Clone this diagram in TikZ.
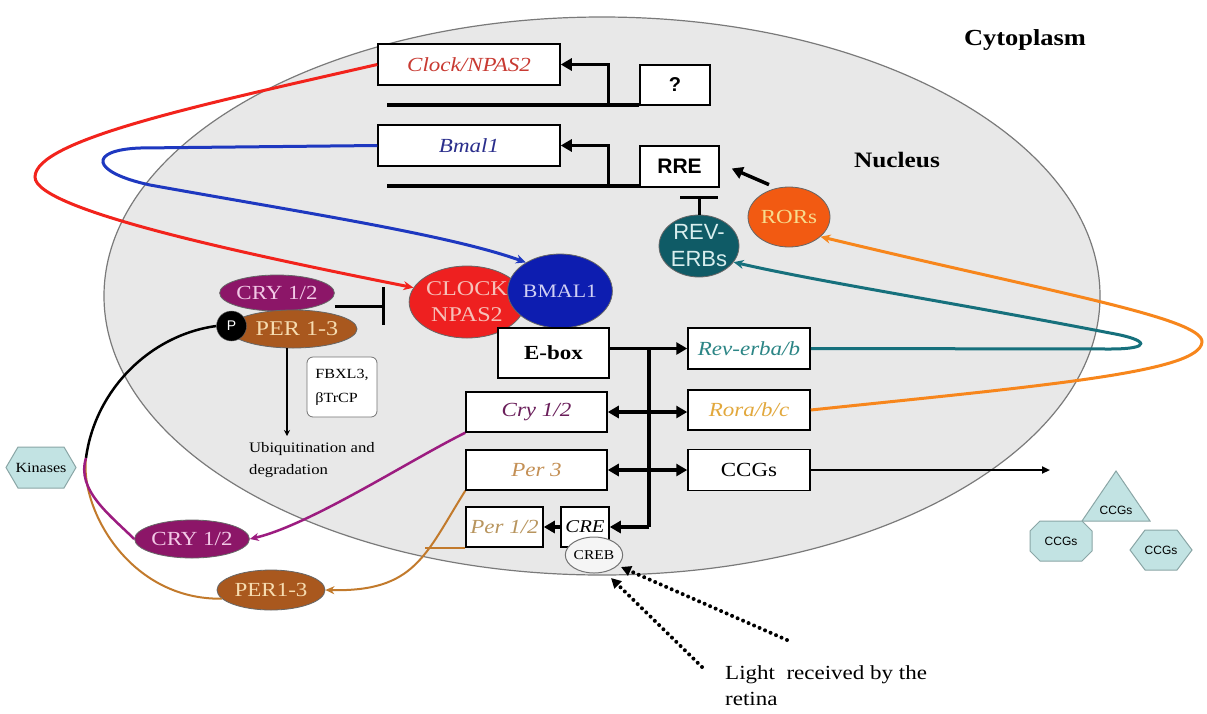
\documentclass[tikz,border=0pt]{standalone}
\usepackage{fontspec}
\setmainfont{Liberation Serif}[FakeStretch=1.15]
\setsansfont{Liberation Sans}
\usetikzlibrary{shapes.geometric,arrows.meta,calc}
\newcommand\myfs[2]{\fontsize{#1}{#2}\selectfont}
\definecolor{nucfill}{HTML}{E8E8E8}
\definecolor{nucdraw}{HTML}{7A7A7A}
\definecolor{clockred}{HTML}{C83A32}
\definecolor{bmalblue}{HTML}{2A2E8C}
\definecolor{redc}{HTML}{F2231C}
\definecolor{bluec}{HTML}{1E38C0}
\definecolor{tealc}{HTML}{16707C}
\definecolor{orangec}{HTML}{F7861C}
\definecolor{clockfill}{HTML}{EE2020}
\definecolor{clocktext}{HTML}{F6C0B8}
\definecolor{bmalfill}{HTML}{0D1DB0}
\definecolor{bmaltext}{HTML}{D0D0F4}
\definecolor{cryfill}{HTML}{8C1668}
\definecolor{crytext}{HTML}{F2C8E6}
\definecolor{perfill}{HTML}{A9581E}
\definecolor{pertext}{HTML}{F6DCB0}
\definecolor{revfill}{HTML}{0F5B66}
\definecolor{revtext}{HTML}{D8EEEE}
\definecolor{rorfill}{HTML}{F25A12}
\definecolor{rortext}{HTML}{F7DC8E}
\definecolor{revtxt}{HTML}{2B8585}
\definecolor{roratxt}{HTML}{E2A83C}
\definecolor{crytxt}{HTML}{6A1E5A}
\definecolor{per3txt}{HTML}{C49055}
\definecolor{per12txt}{HTML}{B8955E}
\definecolor{purplec}{HTML}{9C1C80}
\definecolor{brownc}{HTML}{C27A2C}
\definecolor{shapefill}{HTML}{C2E3E3}
\definecolor{shapedraw}{HTML}{8AA6A6}
\begin{document}
\begin{tikzpicture}[x=1pt,y=-1pt,
  box/.style={draw=black, line width=1.5pt, fill=white, inner sep=0pt, font=\myfs{20}{24}},
  gene/.style={box, font=\itshape\myfs{20}{24}},
  prot/.style={ellipse, draw=black!60, line width=0.8pt, inner sep=0pt, align=center},
  thickarr/.style={line width=3.5pt, -{Triangle[length=11pt,width=12pt]}},
  dblarr/.style={line width=3.5pt, {Triangle[length=11pt,width=12pt]}-{Triangle[length=11pt,width=12pt]}},
  curv/.style={line width=3pt, -{Stealth[length=10pt,width=9pt]}},
  dotarr/.style={line width=4pt, line cap=round, dash pattern=on 0pt off 6pt, -{Triangle[length=10pt,width=10pt]}},
  shp/.style={draw=shapedraw, fill=shapefill, line width=1pt},
  tbar/.style={line width=3pt, -{Bar[width=38pt]}}
]
\useasboundingbox (0,0) rectangle (1207,713);
\fill[white] (0,0) rectangle (1207,713);

% nucleus
\node[ellipse, draw=nucdraw, fill=nucfill, line width=1.2pt, minimum width=996pt, minimum height=558pt, inner sep=0pt] (nuc) at (602,296) {};

\node[font=\bfseries\myfs{23}{28}] (cyto) at (1025,40) {Cytoplasm};
\node[font=\bfseries\myfs{22}{26}] (nucl) at (897,160) {Nucleus};

% genes top
\node[gene, text=clockred, minimum width=182pt, minimum height=41pt] (clockg) at (469,64.5) {Clock/NPAS2};
\node[box, font=\sffamily\bfseries\myfs{20}{24}, minimum width=70pt, minimum height=40pt] (q) at (675,85) {?};
\node[gene, text=bmalblue, minimum width=182pt, minimum height=41pt] (bmalg) at (469,145.5) {Bmal1};
\node[box, font=\sffamily\bfseries\myfs{21}{26}, minimum width=79pt, minimum height=41pt] (rre) at (679.5,166.5) {RRE};

\draw[line width=4pt] ($(q.south west)+(0,-1)$) -- ++(-252,0);
\draw[line width=4pt] ($(rre.south west)+(0,-1.5)$) -- ++(-252,0);
\draw[thickarr] ($(q.south west)+(-31,-1)$) |- (clockg.east);
\draw[thickarr] ($(rre.south west)+(-31,-1.5)$) |- (bmalg.east);

% proteins in nucleus
\node[prot, fill=revfill, text=revtext, minimum width=80pt, minimum height=62pt, font=\sffamily\myfs{22}{27}] (revp) at (699,246) {REV-\\ERBs};
\node[prot, fill=rorfill, text=rortext, minimum width=82pt, minimum height=60pt, font=\myfs{20}{24}] (rorp) at (789,217) {RORs};
\draw[tbar] (revp.north) -- ++(0,-19);
\draw[thickarr] ($(rorp.north)+(-20,-2)$) -- ($(rre.east)+(12,2)$);

\node[prot, fill=clockfill, text=clocktext, minimum width=100pt, minimum height=72pt, font=\myfs{21}{26}] (clockp) at (467,302) {CLOCK\\NPAS2};
\node[prot, fill=bmalfill, text=bmaltext, minimum width=100pt, minimum height=74pt, font=\myfs{19}{22}] (bmalp) at (560,291) {BMAL1};

\node[prot, fill=cryfill, text=crytext, minimum width=102pt, minimum height=36pt, font=\myfs{20}{22}] (crya) at (277,293) {CRY 1/2};
\node[prot, fill=perfill, text=pertext, minimum width=106pt, minimum height=38pt, font=\myfs{21}{22}] (pera) at (293,329) {\hspace*{8pt}PER 1-3};
\node[circle, fill=black, draw=black!60, minimum size=30pt, inner sep=0pt, text=white, font=\sffamily\myfs{14}{14}] (pc) at (231.5,326) {P};
\draw[tbar] ($(crya.east)+(0,13)$) -- ++(50,0);

\coordinate (ubq) at (287,436);
\draw[line width=2pt, -{Stealth[length=6pt,width=6pt]}] ($(pera.south)+(-6,0)$) -- (ubq);
\node[draw=black!55, rounded corners=6pt, fill=white, line width=0.8pt, minimum width=70pt, minimum height=60pt, align=left, font=\myfs{14}{24}] (fbx) at (342,387) {FBXL3,\\βTrCP};
\node[anchor=north west, align=left, inner sep=0pt, font=\myfs{14.5}{22}] (ubiq) at (249,442) {Ubiquitination and\\degradation};

% gene boxes lower
\node[box, font=\bfseries\myfs{20}{24}, minimum width=111pt, minimum height=50pt] (ebox) at (553.5,353) {E-box};
\node[gene, text=revtxt, minimum width=122pt, minimum height=41pt] (reverba) at (749,348.5) {Rev-erba/b};
\node[gene, text=roratxt, minimum width=122pt, minimum height=40pt] (rora) at (749,410) {Rora/b/c};
\node[box, minimum width=122pt, minimum height=41pt] (ccgs) at (749,470) {CCGs};
\node[gene, text=crytxt, minimum width=141pt, minimum height=40pt] (cry) at (536.5,412) {Cry 1/2};
\node[gene, text=per3txt, minimum width=141pt, minimum height=40pt] (per3) at (536.5,470) {Per 3};
\node[gene, text=per12txt, minimum width=77pt, minimum height=40pt] (per12) at (504.5,527) {Per 1/2};
\node[gene, font=\itshape\myfs{18}{22}, minimum width=48pt, minimum height=40pt] (cre) at (585,527) {CRE};
\node[ellipse, draw=black!55, fill=white!96!black, line width=1pt, minimum width=46pt, minimum height=36pt, inner sep=0pt, font=\myfs{13.5}{16}] (creb) at (594,555) {CREB};

\coordinate (bustop) at ($(ebox.east |- reverba.west)+(39,0)$);
\coordinate (busbot) at (bustop |- cre.east);
\draw[line width=3.5pt] (bustop) -- (busbot);
\draw[thickarr] (ebox.east |- reverba.west) -- (reverba.west);
\draw[dblarr] (cry.east) -- (cry.east -| rora.west);
\draw[dblarr] (per3.east) -- (per3.east -| ccgs.west);
\draw[thickarr] (busbot) -- (cre.east);
\draw[thickarr] (cre.west) -- (per12.east);

\coordinate (ccgout) at (1050,470);
\draw[line width=2pt, -{Triangle[length=8pt,width=7pt]}] (ccgs.east) -- (ccgout);

% CCG shapes
\filldraw[shp] (1116,471) -- (1150,521) -- (1082,521) -- cycle;
\node[font=\sffamily\myfs{12}{12}] (ccg1) at (1116,510) {CCGs};
\filldraw[shp] (1040,521) -- (1082,521) -- (1092,531) -- (1092,551) -- (1082,561) -- (1040,561) -- (1030,551) -- (1030,531) -- cycle;
\node[font=\sffamily\myfs{12}{12}] (ccg2) at (1061,541) {CCGs};
\filldraw[shp] (1145,530) -- (1177,530) -- (1192,550) -- (1177,570) -- (1145,570) -- (1130,550) -- cycle;
\node[font=\sffamily\myfs{12}{12}] (ccg3) at (1161,550) {CCGs};
\filldraw[shp] (18,447) -- (64,447) -- (76,467.5) -- (64,488) -- (18,488) -- (6,467.5) -- cycle;
\node[font=\myfs{14}{14}] (kin) at (41,468) {Kinases};

% cytoplasmic proteins
\node[prot, fill=cryfill, text=crytext, minimum width=110pt, minimum height=38pt, font=\myfs{20}{22}] (cryb) at (192,539) {CRY 1/2};
\node[prot, fill=perfill, text=pertext, minimum width=108pt, minimum height=40pt, font=\myfs{20}{22}] (perb) at (271,590) {PER1-3};

% long curves
\draw[curv, redc] (clockg.west) .. controls (200,105) and (35,140) .. (35,177) .. controls (35,210) and (250,255) .. (clockp.165);
\draw[curv, bluec] (bmalg.west) -- (140,148) .. controls (88,150) and (90,172) .. (150,185) .. controls (300,212) and (450,235) .. (bmalp.140);
\draw[curv, tealc] (reverba.east) -- (1110,349) .. controls (1152,349) and (1150,340) .. (1110,333) .. controls (950,302) and (820,282) .. (revp.-25);
\draw[curv, orangec] (rora.east) .. controls (1050,385) and (1200,372) .. (1202,342) .. controls (1203,318) and (1050,292) .. (rorp.-32);

% kinase loop
\coordinate (kj) at (86,458);
\draw[line width=2.5pt] (pc.west) .. controls (150,335) and (95,390) .. (kj);
\draw[line width=2pt, brownc] (kj) .. controls (80,510) and (130,600) .. (perb.190);
\draw[line width=2.5pt, purplec] (kj) .. controls (76,490) and (110,515) .. (cryb.west);
\draw[line width=2.5pt, purplec, -{Stealth[length=9pt,width=8pt]}] (cry.south west) .. controls (410,460) and (310,525) .. (cryb.east);
\draw[line width=2pt, brownc, -{Stealth[length=9pt,width=8pt]}] (per3.south west) .. controls (425,555) and (415,592) .. (perb.east);
\draw[line width=2pt, brownc] (per12.south west) -- ++(-40,0);

% light input
\coordinate (l1) at (787,640);
\coordinate (l2) at (702,667);
\draw[dotarr] (l1) -- ($(creb.center)+(27,12)$);
\draw[dotarr] (l2) -- ($(creb.center)+(17,23)$);
\node[anchor=north west, align=left, inner sep=0pt, font=\myfs{20}{26}] (light) at (725,665) {Light\ \ received by the\\retina};
\end{tikzpicture}
\end{document}
